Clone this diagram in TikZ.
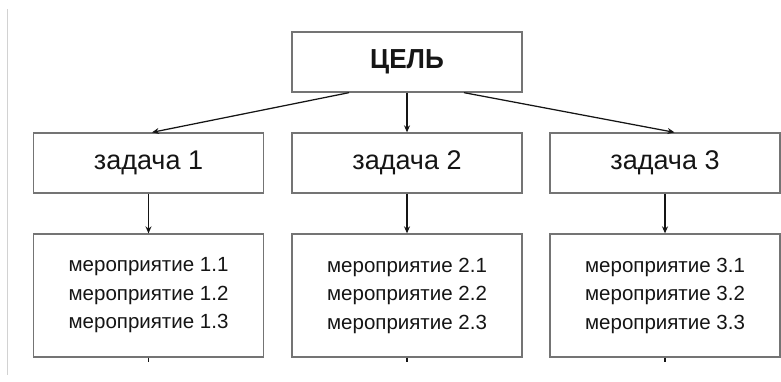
\documentclass[tikz,border=0pt]{standalone}
\usepackage{fontspec}
\setmainfont{Liberation Sans}
\newfontfamily\goalfont[FakeStretch=0.95]{Liberation Sans}
\usetikzlibrary{arrows.meta,calc}
\definecolor{boxgray}{HTML}{747474}
\definecolor{inkc}{HTML}{151515}
\definecolor{sidegray}{HTML}{D2D2D2}
\tikzset{
  box/.style={draw=boxgray, line width=1.3pt, fill=white, minimum width=230pt, inner sep=0pt, text=inkc},
  goalbox/.style={box, minimum height=60pt, font=\goalfont\fontsize{27.5}{30}\selectfont\bfseries},
  taskbox/.style={box, minimum height=60pt, font=\fontsize{27}{30}\selectfont},
  actbox/.style={box, minimum height=123pt, align=center, font=\fontsize{20.5}{28.5}\selectfont},
  conn/.style={draw=inkc, line width=1.25pt, -{Stealth[length=7pt,width=6pt]}},
  stub/.style={draw=inkc, line width=1.2pt}
}
\begin{document}
\begin{tikzpicture}[x=1pt,y=-1pt]
\useasboundingbox (0,0) rectangle (781,381);
\draw[sidegray, line width=1pt] (7.5,9) -- (7.5,375);
\node[goalbox] (goal) at (407,62) {ЦЕЛЬ};
\node[taskbox] (t1) at (148.5,163) {задача 1};
\node[taskbox] (t2) at (407,163) {задача 2};
\node[taskbox] (t3) at (665,163) {задача 3};
\node[actbox] (m1) at (148.5,295.5) {мероприятие 1.1\\мероприятие 1.2\\мероприятие 1.3};
\node[actbox] (m2) at (407,295.5) {мероприятие 2.1\\мероприятие 2.2\\мероприятие 2.3};
\node[actbox] (m3) at (665,295.5) {мероприятие 3.1\\мероприятие 3.2\\мероприятие 3.3};
\draw[conn] ($(goal.south)+(-58,0)$) -- ($(t1.north)+(3.5,0)$);
\draw[conn] (goal.south) -- (t2.north);
\draw[conn] ($(goal.south)+(57,0)$) -- ($(t3.north)+(9.5,0)$);
\draw[conn] (t1.south) -- (m1.north);
\draw[conn] (t2.south) -- (m2.north);
\draw[conn] (t3.south) -- (m3.north);
\coordinate (e1) at ($(m1.south)+(0,4.5)$);
\coordinate (e2) at ($(m2.south)+(0,4.5)$);
\coordinate (e3) at ($(m3.south)+(0,4.5)$);
\draw[stub] (m1.south) -- (e1);
\draw[stub] (m2.south) -- (e2);
\draw[stub] (m3.south) -- (e3);
\end{tikzpicture}
\end{document}
